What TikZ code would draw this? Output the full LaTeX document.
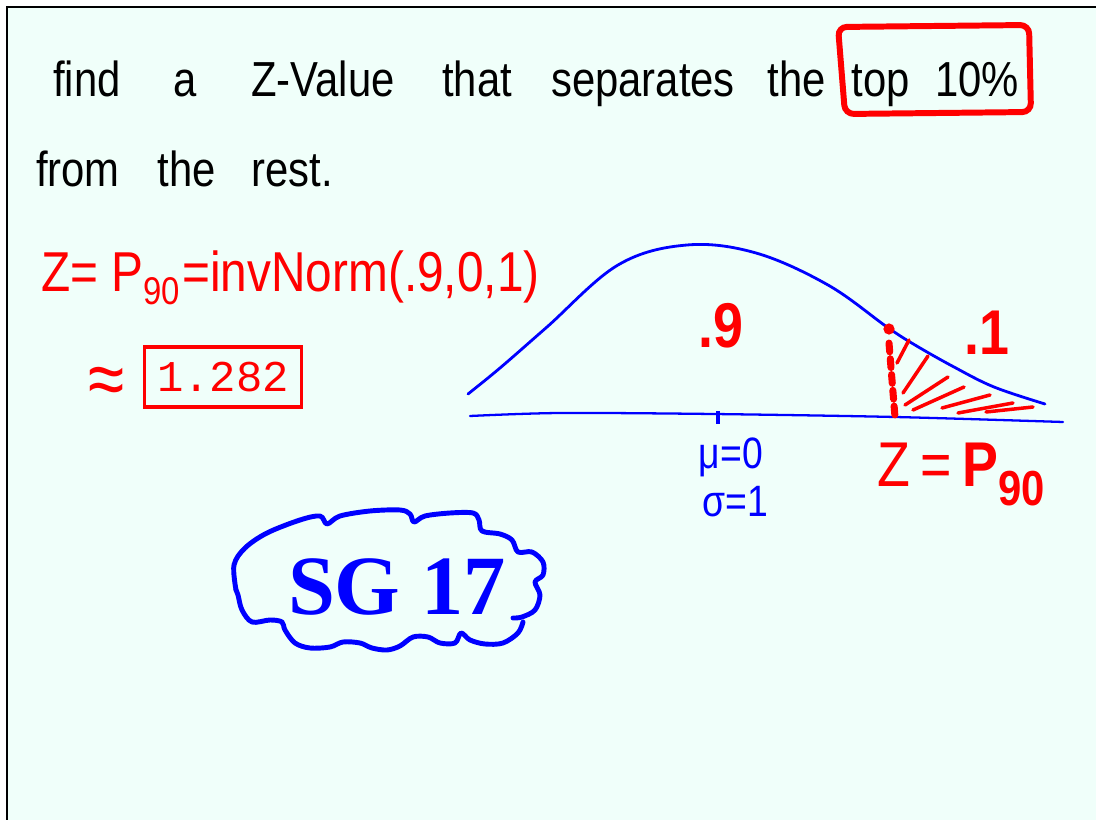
\documentclass[tikz,border=0pt]{standalone}
\usepackage{fontspec}
\setmainfont{Liberation Sans}
\newfontfamily\hand[FakeStretch=0.85]{Liberation Sans}
\newfontfamily\monof{Liberation Mono}
\newfontfamily\seriff{Liberation Serif}
\definecolor{mint}{RGB}{240,255,250}
\definecolor{penred}{RGB}{255,0,0}
\definecolor{penblue}{RGB}{0,0,255}
\begin{document}
\begin{tikzpicture}[x=0.02cm,y=-0.02cm,
  blk/.style={font=\hand\fontsize{28}{30}\selectfont, text=black, inner sep=0pt, anchor=base},
  redt/.style={font=\hand\fontsize{32}{34}\selectfont, text=penred, inner sep=0pt, anchor=base west},
  bluet/.style={font=\hand\fontsize{25}{27}\selectfont, text=penblue, inner sep=0pt, anchor=base},
  bigred/.style={font=\hand\bfseries\fontsize{36}{38}\selectfont, text=penred, inner sep=0pt, anchor=base},
  curve/.style={penblue, line width=1.6pt, line cap=round, line join=round},
  hatch/.style={penred, line width=2pt, line cap=round}]
\useasboundingbox (0,0) rectangle (1096,820);
\fill[white] (0,0) rectangle (1096,820);
\fill[mint] (7,7) rectangle (1096,820);
\draw[line width=1.6pt] (7,820) -- (7,7) -- (1096,7);

% line 1
\node[blk] (w1) at (87,97) {find};
\node[blk] (w2) at (185,97) {a};
\node[blk] (w3) at (323,97) {Z-Value};
\node[blk] (w4) at (477,97) {that};
\node[blk] (w5) at (643,97) {separates};
\node[blk] (w6) at (797,97) {the};
\node[blk] (w7) at (881,97) {top};
\node[blk] (w8) at (977,97) {10\%};
\draw[penred, line width=3.4pt, rounded corners=5pt] (838,27) -- (1029,25) -- (1031,112) -- (845,114) -- cycle;
% line 2
\node[blk] (w9) at (78,187) {from};
\node[blk] (w10) at (187,187) {the};
\node[blk] (w11) at (292,187) {rest.};

% red formula
\node[redt] (zp) at (41,292) {Z= P\raisebox{-0.22em}{\fontsize{22}{24}\selectfont 90}};
\node[redt] (inv) at (182,292) {=invNorm(.9,0,1)};
\node[font=\hand\fontsize{44}{46}\selectfont, text=penred, inner sep=0pt] (approx) at (107,386) {≈};
\node[draw=penred, line width=1.8pt, minimum width=3.14cm, minimum height=1.2cm, inner sep=0pt,
      font=\monof\fontsize{25}{27}\selectfont, text=penred] (val) at (223,377) {1.282};

% normal curve
\draw[curve] plot[smooth, tension=0.6] coordinates {(468,394) (500,368) (547,327) (618,265) (687,245) (756,253) (828,285) (887,327) (915,345) (954,367) (994,387) (1045,404)};
\draw[penblue, line width=1.3pt, line cap=round] plot[smooth, tension=0.5] coordinates {(470,416) (560,413) (713,414) (895,417) (1063,422)};
\draw[penblue, line width=2.2pt] (718,411) -- (718,424);
\coordinate (ztop) at (889,329);
\coordinate (zbot) at (895,417);
\fill[penred] (ztop) circle[radius=3.2pt];
\draw[penred, line width=4pt, line cap=round, dash pattern=on 5pt off 4pt] ([yshift=-8pt]ztop) -- (zbot);
\draw[hatch] (897,363) -- (909,340);
\draw[hatch] (903,393) -- (928,356);
\draw[hatch] (905,405) -- (948,377);
\draw[hatch] (913,410) -- (964,387);
\draw[hatch] (942,408) -- (990,395);
\draw[hatch] (958,413) -- (1013,403);
\draw[hatch] (986,412) -- (1033,407);

\node[bigred] (p9) at (721,348) {.9};
\node[bigred] (p1) at (987,355) {.1};
\node[bluet] (mu) at (731,469) {μ=0};
\node[bluet] (sig) at (735,517) {σ=1};
\node[font=\hand\fontsize{36}{38}\selectfont, text=penred, inner sep=0pt, anchor=base west] (zp2) at (877,487)
  {Z\,=\,\textbf{P}\raisebox{-0.3em}{\fontsize{28}{30}\selectfont\textbf{90}}};

% cloud
\draw[penblue, line width=2.8pt, line cap=round, line join=round] plot[smooth, tension=0.55] coordinates {
 (236,590) (234,565) (245,548) (267,533) (300,520) (320,516) (327,524) (340,516) (370,511) (400,510)
 (410,514) (414,522) (425,516) (450,513) (473,513) (479,520) (482,531) (500,534) (512,540) (518,552)
 (532,552) (543,562) (543,575) (535,582) (540,595) (535,610) (522,617) (513,618)};
\draw[penblue, line width=2.8pt, line cap=round, line join=round] plot[smooth, tension=0.55] coordinates {
 (523,622) (518,633) (503,643) (485,644) (470,640) (461,633) (455,643) (440,643) (428,637) (413,637)
 (400,646) (387,650) (372,648) (360,643) (343,642) (330,647) (310,648) (295,643) (285,630) (282,622)
 (270,620) (252,622) (242,610) (238,595) (236,590)};
\node[font=\seriff\bfseries\fontsize{48}{50}\selectfont, text=penblue, inner sep=0pt] (sg) at (397,587) {SG 17};
\end{tikzpicture}
\end{document}
